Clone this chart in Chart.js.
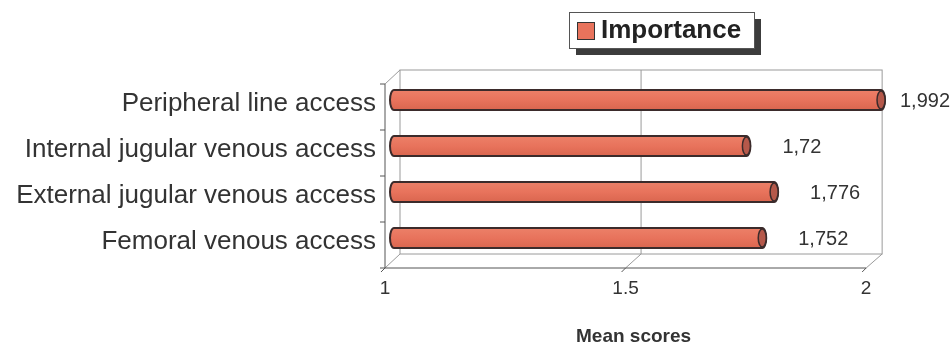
<!DOCTYPE html>
<html>
<head>
<meta charset="utf-8">
<script src="https://cdn.jsdelivr.net/npm/chart.js@4.4.6/dist/chart.umd.js"></script>
<style>
  html, body { margin: 0; padding: 0; background: #fff; }
</style>
</head>
<body>
<canvas id="chart" width="951" height="346"></canvas>
<script>
const categories = [
  'Peripheral line access',
  'Internal jugular venous access',
  'External jugular venous access',
  'Femoral venous access'
];
const importance = [1.992, 1.72, 1.776, 1.752];
const valueLabels = ['1,992', '1,72', '1,776', '1,752'];
const xTicks = [1, 1.5, 2];
const xTickLabels = ['1', '1.5', '2'];
const seriesName = 'Importance';
const axisTitle = 'Mean scores';

const FONT = "'Liberation Sans', Arial, sans-serif";
const barColor = '#E8735C';
const outline = '#3b2b2b';

// the 3D box: front and back planes are offset from the plane the bars sit in
const frontX = (x, v) => x.left - 5 + (x.getPixelForValue(v) - x.left) * 0.972;
const backX = (x, v) => x.left + 10 + (x.getPixelForValue(v) - x.left) * 0.974;

const line = (ctx, x1, y1, x2, y2) => {
  ctx.beginPath();
  ctx.moveTo(x1, y1);
  ctx.lineTo(x2, y2);
  ctx.stroke();
};

const frame3d = {
  id: 'frame3d',
  beforeDatasetsDraw(chart) {
    const { ctx, chartArea: a } = chart;
    const x = chart.scales.x;
    const fTop = a.top + 7, fBot = a.bottom + 7;
    const bTop = a.top - 7, bBot = a.bottom - 7;
    ctx.save();
    ctx.lineWidth = 1;
    ctx.strokeStyle = '#9a9a9a';
    // back wall
    ctx.strokeRect(backX(x, 1), bTop, backX(x, 2) - backX(x, 1), bBot - bTop);
    line(ctx, backX(x, 1.5), bTop, backX(x, 1.5), bBot);
    // side wall + floor
    line(ctx, frontX(x, 1), fTop, backX(x, 1), bTop);
    line(ctx, frontX(x, 1), fBot, backX(x, 1), bBot);
    line(ctx, frontX(x, 1.5), fBot, backX(x, 1.5), bBot);
    line(ctx, frontX(x, 2), fBot, backX(x, 2), bBot);
    ctx.strokeStyle = '#555';
    line(ctx, frontX(x, 1), fTop, frontX(x, 1), fBot);
    line(ctx, frontX(x, 1), fBot, frontX(x, 2), fBot);
    // tick marks
    const band = (a.bottom - a.top) / categories.length;
    for (let i = 0; i <= categories.length; i++) {
      const y = fTop + i * band;
      line(ctx, frontX(x, 1) - 5, y, frontX(x, 1), y);
    }
    xTicks.forEach((v) => line(ctx, frontX(x, v), fBot, frontX(x, v) - 4, fBot + 4));
    // x tick labels
    ctx.fillStyle = '#333';
    ctx.font = `19px ${FONT}`;
    ctx.textAlign = 'center';
    ctx.textBaseline = 'middle';
    xTicks.forEach((v, i) => ctx.fillText(xTickLabels[i], frontX(x, v), fBot + 21));
    ctx.font = `bold 19px ${FONT}`;
    ctx.fillText(axisTitle, frontX(x, 1.5) + 8, 337);
    ctx.restore();
  },
  beforeDatasetDraw() {
    return false;
  },
  afterDatasetsDraw(chart) {
    const { ctx } = chart;
    const meta = chart.getDatasetMeta(0);
    ctx.save();
    meta.data.forEach((bar, i) => {
      const { x, y, base, height } = bar.getProps(['x', 'y', 'base', 'height']);
      const h = height / 2, r = 4;
      const g = ctx.createLinearGradient(0, y - h, 0, y + h);
      g.addColorStop(0, '#EC8068');
      g.addColorStop(0.5, barColor);
      g.addColorStop(1, '#DA664F');
      ctx.beginPath();
      ctx.moveTo(base + r, y - h);
      ctx.lineTo(x, y - h);
      ctx.ellipse(x, y, r, h, 0, -Math.PI / 2, Math.PI / 2);
      ctx.lineTo(base + r, y + h);
      ctx.ellipse(base + r, y, r, h, 0, Math.PI / 2, Math.PI * 1.5);
      ctx.closePath();
      ctx.fillStyle = g;
      ctx.fill();
      ctx.lineWidth = 2;
      ctx.strokeStyle = outline;
      ctx.stroke();
      ctx.beginPath();
      ctx.ellipse(x, y, r, h - 1, 0, 0, Math.PI * 2);
      ctx.fillStyle = '#B5584A';
      ctx.fill();
      ctx.lineWidth = 1.5;
      ctx.stroke();

      // value label
      ctx.font = `20px ${FONT}`;
      ctx.fillStyle = '#333';
      ctx.textBaseline = 'middle';
      ctx.textAlign = 'left';
      const w = ctx.measureText(valueLabels[i]).width;
      const lx = Math.min(x + 36, chart.width - 1 - w);
      ctx.fillText(valueLabels[i], lx, y + 1);
    });
    ctx.restore();
  },
  afterDraw(chart) {
    const { ctx } = chart;
    const bx = 569, by = 12, bw = 185, bh = 36;
    ctx.save();
    ctx.fillStyle = '#3c3c3c';
    ctx.fillRect(bx + 7, by + 7, bw, bh);
    ctx.fillStyle = '#fff';
    ctx.fillRect(bx, by, bw, bh);
    ctx.lineWidth = 1;
    ctx.strokeStyle = '#555';
    ctx.strokeRect(bx + 0.5, by + 0.5, bw, bh);
    ctx.fillStyle = barColor;
    ctx.fillRect(577, 22, 17, 17);
    ctx.strokeStyle = '#333';
    ctx.strokeRect(577.5, 22.5, 17, 17);
    ctx.fillStyle = '#222';
    ctx.font = `bold 26px ${FONT}`;
    ctx.textBaseline = 'middle';
    ctx.fillText(seriesName, 601, by + bh / 2 + 1);
    ctx.restore();
  }
};

new Chart(document.getElementById('chart'), {
  type: 'bar',
  data: {
    labels: categories,
    datasets: [{
      label: seriesName,
      data: importance,
      backgroundColor: barColor,
      barThickness: 20,
      base: 1
    }]
  },
  plugins: [frame3d],
  options: {
    indexAxis: 'y',
    responsive: false,
    devicePixelRatio: 1,
    animation: false,
    layout: { padding: { left: 0, right: 66, top: 77, bottom: 85 } },
    scales: {
      x: {
        min: 1,
        max: 2,
        ticks: { display: false },
        grid: { display: false, drawTicks: false },
        border: { display: false },
        afterFit: (s) => { s.height = 0; }
      },
      y: {
        ticks: { color: '#333', padding: 14, labelOffset: 4, font: { family: FONT, size: 26 } },
        grid: { display: false, drawTicks: false },
        border: { display: false },
        afterFit: (s) => { s.width = 390; }
      }
    },
    plugins: {
      legend: { display: false },
      tooltip: { enabled: false }
    }
  }
});
</script>
</body>
</html>
